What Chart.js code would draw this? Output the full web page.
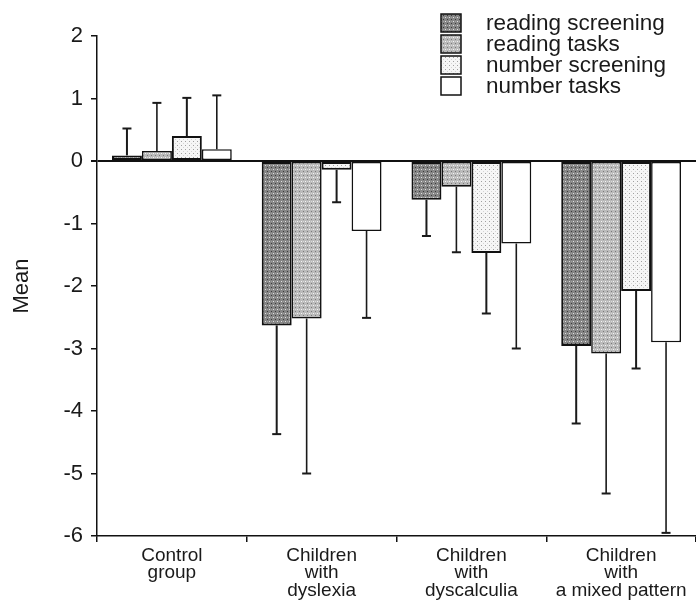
<!DOCTYPE html>
<html>
<head>
<meta charset="utf-8">
<script src="https://cdn.jsdelivr.net/npm/chart.js@4/dist/chart.umd.min.js"></script>
<style>
  html, body { margin: 0; padding: 0; background: #ffffff; }
  #wrap { width: 696px; height: 601px; position: relative; }
</style>
</head>
<body>
<div id="wrap"><canvas id="c" width="696" height="601"></canvas></div>
<script>
// Group labels (multi-line)
const categories = [
  ["Control", "group"],
  ["Children", "with", "dyslexia"],
  ["Children", "with", "dyscalculia"],
  ["Children", "with", "a mixed pattern"]
];

const seriesNames = ["reading screening", "reading tasks", "number screening", "number tasks"];

// Mean scores per group
const readingScreening = [0.09, -2.63, -0.62, -2.96];
const readingTasks     = [0.16, -2.52, -0.41, -3.08];
const numberScreening  = [0.40, -0.14, -1.47, -2.08];
const numberTasks      = [0.19, -1.12, -1.32, -2.90];

// Standard deviations (whisker drawn away from zero)
const readingScreeningSD = [0.43, 1.74, 0.58, 1.24];
const readingTasksSD     = [0.77, 2.48, 1.05, 2.24];
const numberScreeningSD  = [0.61, 0.52, 0.97, 1.24];
const numberTasksSD      = [0.86, 1.39, 1.68, 3.05];

const yTicks = [2, 1, 0, -1, -2, -3, -4, -5, -6];

const FONT = "'Liberation Sans', Arial, Helvetica, sans-serif";

// Small tiled textures for the bar fills
function makePattern(base, dots) {
  const t = document.createElement('canvas');
  t.width = 4; t.height = 4;
  const g = t.getContext('2d');
  g.fillStyle = base;
  g.fillRect(0, 0, 4, 4);
  dots.forEach(d => { g.fillStyle = d[2]; g.fillRect(d[0], d[1], 1, 1); });
  return document.getElementById('c').getContext('2d').createPattern(t, 'repeat');
}

const fills = [
  makePattern('#858585', [[1, 1, '#e0e0e0'], [3, 3, '#3a3a3a'], [3, 1, '#a0a0a0']]),
  makePattern('#bababa', [[1, 1, '#f4f4f4'], [3, 3, '#7a7a7a'], [3, 1, '#d8d8d8']]),
  makePattern('#f6f6f6', [[1, 1, '#a0a0a0'], [3, 3, '#d4d4d4']]),
  '#ffffff'
];
const borderW = [2, 1.6, 2, 1.6];

const values = [readingScreening, readingTasks, numberScreening, numberTasks];
const sds = [readingScreeningSD, readingTasksSD, numberScreeningSD, numberTasksSD];

const datasets = values.map((v, i) => ({
  label: seriesNames[i],
  data: v,
  sd: sds[i],
  backgroundColor: fills[i],
  borderColor: '#111111',
  borderWidth: borderW[i],
  borderSkipped: false,
  categoryPercentage: 0.8,
  barPercentage: 1.0
}));

// One-sided error whiskers
const errorBars = {
  id: 'errorBars',
  afterDatasetsDraw(chart) {
    const ctx = chart.ctx;
    const ys = chart.scales.y;
    ctx.save();
    chart.data.datasets.forEach((ds, i) => {
      const meta = chart.getDatasetMeta(i);
      meta.data.forEach((bar, j) => {
        const v = ds.data[j];
        const end = v >= 0 ? v + ds.sd[j] : v - ds.sd[j];
        const y0 = ys.getPixelForValue(v);
        const y1 = ys.getPixelForValue(end);
        ctx.strokeStyle = '#1a1a1a';
        ctx.lineWidth = borderW[i];
        ctx.beginPath();
        ctx.moveTo(bar.x, y0);
        ctx.lineTo(bar.x, y1);
        ctx.stroke();
        ctx.lineWidth = 2;
        ctx.beginPath();
        ctx.moveTo(bar.x - 4.5, y1);
        ctx.lineTo(bar.x + 4.5, y1);
        ctx.stroke();
      });
    });
    ctx.restore();
  }
};

// Stacked legend in the top-right corner
const boxLegend = {
  id: 'boxLegend',
  afterDraw(chart) {
    const ctx = chart.ctx;
    ctx.save();
    ctx.font = '22.5px ' + FONT;
    ctx.textBaseline = 'middle';
    chart.data.datasets.forEach((ds, i) => {
      const cy = 23 + i * 21;
      ctx.fillStyle = ds.backgroundColor;
      ctx.fillRect(441, cy - 9, 20, 18);
      ctx.strokeStyle = '#111111';
      ctx.lineWidth = 1.5;
      ctx.strokeRect(441, cy - 9, 20, 18);
      ctx.fillStyle = '#1a1a1a';
      ctx.fillText(ds.label, 486, cy + 1);
    });
    ctx.restore();
  }
};

new Chart(document.getElementById('c'), {
  type: 'bar',
  data: { labels: categories, datasets },
  options: {
    responsive: false,
    animation: false,
    devicePixelRatio: 1,
    layout: { padding: { top: 36, right: 0, left: 0, bottom: 0 } },
    plugins: {
      legend: { display: false },
      tooltip: { enabled: false }
    },
    scales: {
      x: {
        offset: true,
        grid: {
          offset: true,
          drawOnChartArea: false,
          drawTicks: true,
          tickLength: 6,
          tickColor: '#111111',
          lineWidth: 1.5
        },
        border: { display: true, color: '#111111', width: 1.5 },
        ticks: {
          color: '#1a1a1a',
          font: { family: FONT, size: 19, lineHeight: '17.5px' },
          padding: 5,
          maxRotation: 0,
          autoSkip: false
        },
        afterFit(scale) { scale.height = 65; }
      },
      y: {
        min: -6,
        max: 2,
        afterBuildTicks(scale) { scale.ticks = yTicks.map(v => ({ value: v })); },
        grid: {
          drawOnChartArea: true,
          color: ctx => (ctx.tick && ctx.tick.value === 0 ? '#111111' : 'rgba(0,0,0,0)'),
          lineWidth: ctx => (ctx.tick && ctx.tick.value === 0 ? 2 : 1.5),
          tickColor: '#111111',
          tickLength: 6,
          drawTicks: true
        },
        border: { display: true, color: '#111111', width: 1.5 },
        ticks: {
          color: '#1a1a1a',
          font: { family: FONT, size: 22 },
          padding: 8
        },
        title: {
          display: true,
          text: 'Mean',
          color: '#1a1a1a',
          font: { family: FONT, size: 22 },
          padding: { top: 9, bottom: 0 }
        },
        afterFit(scale) { scale.width = 97; }
      }
    }
  },
  plugins: [errorBars, boxLegend]
});
</script>
</body>
</html>
